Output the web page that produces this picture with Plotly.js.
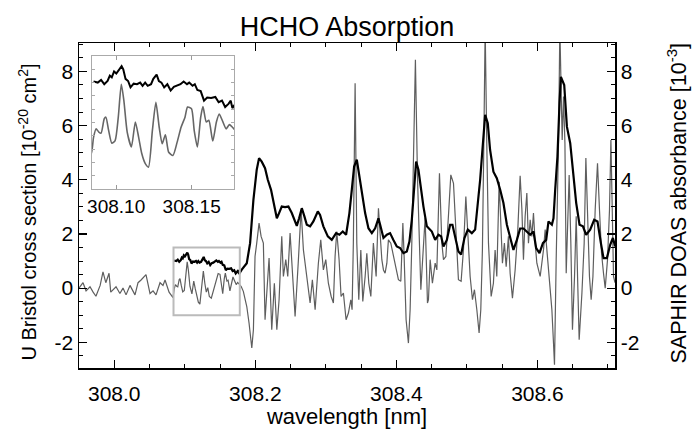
<!DOCTYPE html>
<html>
<head>
<meta charset="utf-8">
<script src="https://cdn.plot.ly/plotly-3.0.1.min.js"></script>
<style>html,body{margin:0;padding:0;background:#fff;}#chart{width:693px;height:429px;}</style>
</head>
<body>
<div id="chart"></div>
<script>
// U Bristol cross section (thin gray line)
const bristolX = [
307.950,307.9557,307.960,307.9656,307.970,307.974,307.980,307.984,307.988,307.9926,307.995,308.0025,308.008,308.0124,308.0167,308.0223,308.0294,308.0337,308.038,308.045,308.0507,308.055,308.0592,308.0649,308.0691,308.072,308.0777,308.0833,
308.085,308.0867,308.0885,308.090,308.0921,308.0932,308.095,308.0971,308.0993,308.1014,308.1034,308.1051,308.1073,308.1101,308.1127,308.1149,308.117,308.1192,308.1214,308.124,308.1263,308.1285,308.1305,308.1326,308.1348,308.1376,308.1404,308.143,308.1456,308.1473,308.1499,308.1517,308.1538,308.156,308.1575,308.1597,308.1614,308.164,308.1664,308.1683,308.1707,308.1729,308.175,308.177,
308.180,308.183,308.1879,308.1911,308.195,308.1973,308.1996,308.202,308.2053,308.2082,308.2114,308.2138,308.2171,308.2195,308.2233,308.227,308.2305,308.2337,308.2375,308.2398,308.2432,308.246,308.2493,308.2517,308.2564,308.2611,308.2649,308.2682,308.2706,308.2744,308.2777,308.2809,308.2848,308.2894,308.2928,308.2965,308.2999,308.3036,
308.3075,308.3107,308.3131,308.3155,308.3188,308.3216,308.3249,308.3287,308.332,308.3354,308.3372,308.339,308.3415,308.3439,308.3467,308.3496,308.3524,308.3557,308.3581,308.3609,308.3638,308.3674,308.3713,308.3746,308.377,308.3794,308.3817,308.384,308.3865,308.3887,308.3921,308.3958,308.3997,308.4029,308.4063,308.4092,308.411,308.4138,308.4171,308.4195,308.4219,308.4252,308.427,308.4299,308.4327,308.4347,308.4375,308.4408,308.4441,
308.4455,308.4479,308.4511,308.455,308.4574,308.4611,308.4645,308.4668,308.4702,308.4738,308.4772,308.481,308.4843,308.488,308.4918,308.4951,308.4985,308.5013,308.5046,308.5079,308.5107,308.5141,308.5173,308.5197,308.522,308.524,308.5259,308.5282,308.5306,308.5344,308.5376,308.540,308.5424,308.5457,308.5486,308.5504,308.5532,308.5557,308.5589,308.5613,308.5646,308.5684,308.5722,308.5755,
308.578,308.5802,308.5826,308.585,308.5873,308.5897,308.5921,308.5944,308.5968,308.5992,308.6039,308.6086,308.611,308.6134,308.6171,308.6205,308.6228,308.6242,308.6266,308.6299,308.6318,308.6337,308.6351,308.637,308.639,308.6408,308.6432,308.645,308.6474,308.6497,308.6526,308.655,308.6569,308.6592,308.6631,308.6663,308.6687,308.6716,308.6738,308.6762,308.6787,308.6819,308.6852,308.688,308.6909,308.6937,308.6961,308.6994,308.7022,308.7042,308.706,308.7079,308.710
];
const bristolY = [
0.0,0.2,-0.1,0.05,-0.15,-0.3,0.1,0.6,0.2,0.55,-0.15,0.05,-0.2,0.0,-0.25,0.1,-0.25,0.2,0.3,0.5,-0.2,-0.1,-0.25,0.2,0.1,0.3,-0.15,-0.35,
-0.03,0.13,0.07,0.05,0.32,0.35,0.10,-0.14,-0.09,0.35,0.97,0.66,0.07,-0.21,0.26,-0.03,-0.34,-0.52,-0.59,0.10,0.63,0.16,-0.15,0.02,-0.31,-0.37,-0.12,0.16,0.35,0.54,0.51,0.10,-0.21,0.35,0.55,0.26,0.29,-0.10,0.26,0.41,0.26,0.13,0.21,0.16,
0.06,-0.12,-0.68,-1.29,-2.21,-1.54,1.17,1.66,2.40,1.91,1.66,-1.17,0.18,1.11,-1.54,0.18,-1.54,-0.43,1.91,0.43,1.05,0.43,2.03,1.05,-1.05,1.05,2.89,1.41,0.92,0.18,-0.55,0.31,-0.80,0.92,1.78,0.67,1.05,0.18,
-0.3,-0.55,1.17,2.09,1.05,-0.31,-0.18,-1.17,-0.92,-0.43,-0.80,1.66,7.56,1.66,-0.43,1.41,-0.49,0.43,1.29,0.18,-0.31,1.66,0.43,2.95,1.91,1.05,0.67,0.55,0.92,1.78,1.66,1.17,0.67,0.31,0.25,2.40,1.17,-1.17,-2.03,-0.80,1.66,5.35,8.43,4.12,1.41,-0.06,1.17,2.6,-0.55,
-0.43,1.05,0.18,0.92,0.67,4.24,1.66,1.05,1.17,2.65,4.18,3.87,2.16,0.31,0.25,1.41,3.38,2.03,0.43,-0.43,-0.06,-0.80,-1.66,-0.80,1.41,5.35,9.6,5.35,1.66,-0.31,0.18,1.41,0.43,3.93,2.40,0.92,1.66,0.79,1.91,0.55,-0.37,0.67,2.16,4.15,
2.89,1.05,2.65,3.51,1.66,2.52,1.91,2.77,1.66,0.92,0.43,1.41,2.16,1.41,0.43,-0.80,-2.03,-2.83,1.05,5.35,9.6,7.80,5.47,7.07,5.35,0.55,2.89,4.18,1.66,-1.54,0.43,2.65,0.43,-1.91,-0.18,1.66,4.80,2.65,0.43,-0.43,0.43,2.89,4.61,2.89,1.29,0.55,0.0,1.05,2.89,5.47,2.89,0.43,0.2
];

// SAPHIR DOAS absorbance (thick black line)
const saphirX = [
308.085,308.0878,308.090,308.0921,308.0943,308.0958,308.0971,308.0986,308.1001,308.1019,308.1036,308.1047,308.1062,308.1079,308.1095,308.1116,308.1138,308.1159,308.1175,308.1192,308.1209,308.1231,308.1246,308.1268,308.1283,308.130,308.1318,308.1339,308.1361,308.1382,308.1404,308.1426,308.1447,308.1469,308.1484,308.1506,308.1521,308.1538,308.156,308.1582,308.1603,308.1629,308.1657,308.1679,308.1701,308.1722,308.1744,308.1759,308.177,
308.1808,308.1879,308.1926,308.1973,308.202,308.2053,308.2091,308.2138,308.2177,308.2223,308.227,308.2305,308.2337,308.2375,308.2422,308.2469,308.2517,308.2554,308.2588,308.2621,308.2659,308.2696,308.273,308.2777,308.2823,308.2886,308.2918,308.2965,308.3028,308.3084,
308.3145,308.3192,308.324,308.3287,308.3334,308.3368,308.3401,308.3439,308.3476,308.3514,308.3557,308.3604,308.3652,308.3699,308.3746,308.377,308.3817,308.3865,308.3911,308.3958,308.4006,308.4053,308.410,308.4148,308.4185,308.4219,308.4252,308.428,308.4313,308.4347,308.4384,308.4432,
308.4479,308.4503,308.455,308.4597,308.4635,308.4668,308.4716,308.4762,308.4795,308.4833,308.488,308.4918,308.4965,308.5013,308.507,308.5117,308.5155,308.5188,308.522,308.5259,308.5296,308.5329,308.5376,308.5424,308.5472,308.5518,308.5567,308.5613,308.566,308.5709,308.5755,
308.5802,308.585,308.5897,308.5944,308.5982,308.6029,308.6078,308.6124,308.6157,308.6205,308.6228,308.6252,308.6284,308.6313,308.6333,308.638,308.6418,308.6465,308.6503,308.655,308.6597,308.6645,308.6691,308.6748,308.6805,308.6852,308.690,308.6937,308.6985,308.7032,308.707,308.7103
];
const saphirY = [
1.02,1.0,1.05,0.97,1.03,1.13,1.10,1.21,1.17,1.25,1.31,1.25,1.07,1.03,0.91,0.98,0.97,1.0,0.94,1.0,0.94,0.97,1.07,1.15,1.03,1.0,0.91,0.97,0.85,0.92,0.94,0.97,1.02,0.97,1.0,0.94,0.97,0.86,0.84,0.66,0.72,0.71,0.73,0.63,0.66,0.54,0.60,0.66,0.52,
0.68,0.92,1.66,3.26,4.37,4.80,4.67,4.43,4.0,3.63,3.01,2.58,2.77,3.01,2.99,3.01,2.77,2.52,2.30,2.58,2.95,2.65,2.34,2.28,2.46,2.83,2.70,2.28,1.91,1.78,
2.03,1.97,2.09,1.97,2.77,3.63,4.49,4.74,4.12,3.51,2.77,2.21,2.03,2.21,2.58,2.34,1.85,1.97,2.03,1.78,1.54,1.48,1.29,1.35,1.72,2.52,3.75,4.67,4.37,3.63,3.01,2.28,
2.16,2.09,1.78,1.97,1.91,1.54,1.78,2.34,2.34,1.85,1.35,1.24,1.85,2.16,2.03,2.16,3.14,4.0,5.1,6.4,6.09,5.1,4.3,4.06,3.63,3.14,2.34,1.91,1.41,1.78,2.2,
2.2,2.09,1.97,2.09,1.48,1.29,1.66,1.78,2.46,2.34,2.58,3.63,4.86,6.82,7.80,7.50,5.96,5.35,4.37,3.14,2.34,2.28,1.97,2.16,2.52,2.46,1.66,1.11,1.11,1.60,1.85,1.54
];

// Axis ranges, tick labels and axis titles
const mainXRange = [307.95, 308.71];
const mainYRange = [-2.95, 9.05];
const zoomXRange = [308.084, 308.178];
const zoomYRange = [-1.0, 1.5];
const insetTicks = [308.10, 308.15];
const yTickVals = [-2, 0, 2, 4, 6, 8];
const yTickText = ['-2', '0', '2', '4', '6', '8'];
const leftTitle = 'U Bristol cross section [10<sup>-20</sup> cm<sup>2</sup>]';
const rightTitle = 'SAPHIR DOAS absorbance [10<sup>-3</sup>]';

const FONT = '"Liberation Sans", Arial, Helvetica, sans-serif';

const traces = [
  {x: bristolX, y: bristolY, type: 'scatter', mode: 'lines', xaxis: 'x', yaxis: 'y',
   line: {color: '#5e5e5e', width: 1.2}, hoverinfo: 'skip'},
  {x: saphirX, y: saphirY, type: 'scatter', mode: 'lines', xaxis: 'x', yaxis: 'y2',
   line: {color: '#000', width: 2.2}, hoverinfo: 'skip'},
  {x: bristolX, y: bristolY, type: 'scatter', mode: 'lines', xaxis: 'x3', yaxis: 'y3',
   line: {color: '#666', width: 1.6, shape: 'spline', smoothing: 0.6}, hoverinfo: 'skip'},
  {x: saphirX, y: saphirY, type: 'scatter', mode: 'lines', xaxis: 'x3', yaxis: 'y3',
   line: {color: '#000', width: 2.0}, hoverinfo: 'skip'}
];

const baseY = {
  range: mainYRange, tickvals: yTickVals, ticktext: yTickText, ticks: 'inside', ticklen: 8, tickwidth: 1.2,
  tickcolor: '#000', showline: true, linecolor: '#000', linewidth: 1.5, zeroline: false,
  showgrid: false, tickfont: {size: 21, color: '#000'},
  minor: {dtick: 0.5, tick0: 0, ticks: 'inside', ticklen: 4, tickcolor: '#000', tickwidth: 1}
};

const layout = {
  width: 693, height: 429,
  margin: {l: 79, r: 78, t: 43, b: 61},
  paper_bgcolor: '#fff', plot_bgcolor: '#fff',
  font: {family: FONT, color: '#000'},
  showlegend: false,
  title: {text: 'HCHO Absorption', font: {size: 27, color: '#000'}, x: 0.5, xref: 'paper',
          y: 0.937, yref: 'container', yanchor: 'middle'},
  xaxis: {
    range: mainXRange, dtick: 0.2, tick0: 308, tickformat: '.1f', ticks: 'inside', ticklen: 8,
    tickwidth: 1.2, tickcolor: '#000', showline: true, linecolor: '#000', linewidth: 1.5,
    mirror: 'ticks', showgrid: false, zeroline: false, tickfont: {size: 21, color: '#000'},
    ticklabelstandoff: 6,
    minor: {dtick: 0.05, ticks: 'inside', ticklen: 4, tickcolor: '#000', tickwidth: 1},
    title: {text: 'wavelength [nm]', font: {size: 22, color: '#000'}, standoff: 0}
  },
  yaxis: Object.assign({}, baseY, {}),
  yaxis2: Object.assign({}, baseY, {overlaying: 'y', side: 'right', anchor: 'x'}),
  xaxis3: {
    domain: [0.0243, 0.289], anchor: 'y3', range: zoomXRange, tickvals: insetTicks,
    tickformat: '.2f', ticks: 'inside', ticklen: 4, tickcolor: '#999', tickwidth: 1,
    showline: true, linecolor: '#aaa', linewidth: 1.2, mirror: 'ticks', showgrid: false,
    zeroline: false, tickfont: {size: 19, color: '#000'}
  },
  yaxis3: {
    domain: [0.551, 0.96], anchor: 'x3', range: zoomYRange, dtick: 0.25, tick0: 0,
    ticks: 'inside', ticklen: 3, tickcolor: '#aaa', tickwidth: 1, showticklabels: false,
    showline: true, linecolor: '#aaa', linewidth: 1.2, mirror: 'ticks', showgrid: false,
    zeroline: false
  },
  annotations: [
    {text: leftTitle, xref: 'paper', yref: 'paper', x: 0, y: 0.5, xanchor: 'center', yanchor: 'middle',
     xshift: -52, yshift: -7, textangle: -90, showarrow: false, font: {size: 20, color: '#000'}},
    {text: rightTitle, xref: 'paper', yref: 'paper', x: 1, y: 0.5, xanchor: 'center', yanchor: 'middle',
     xshift: 61, yshift: 2, textangle: -90, showarrow: false, font: {size: 21.5, color: '#000'}}
  ],
  shapes: [{
    type: 'rect', xref: 'x', yref: 'y', x0: zoomXRange[0], x1: zoomXRange[1],
    y0: zoomYRange[0], y1: zoomYRange[1], line: {color: '#bbb', width: 2}
  }]
};

Plotly.newPlot('chart', traces, layout, {displayModeBar: false, staticPlot: true});
</script>
</body>
</html>
